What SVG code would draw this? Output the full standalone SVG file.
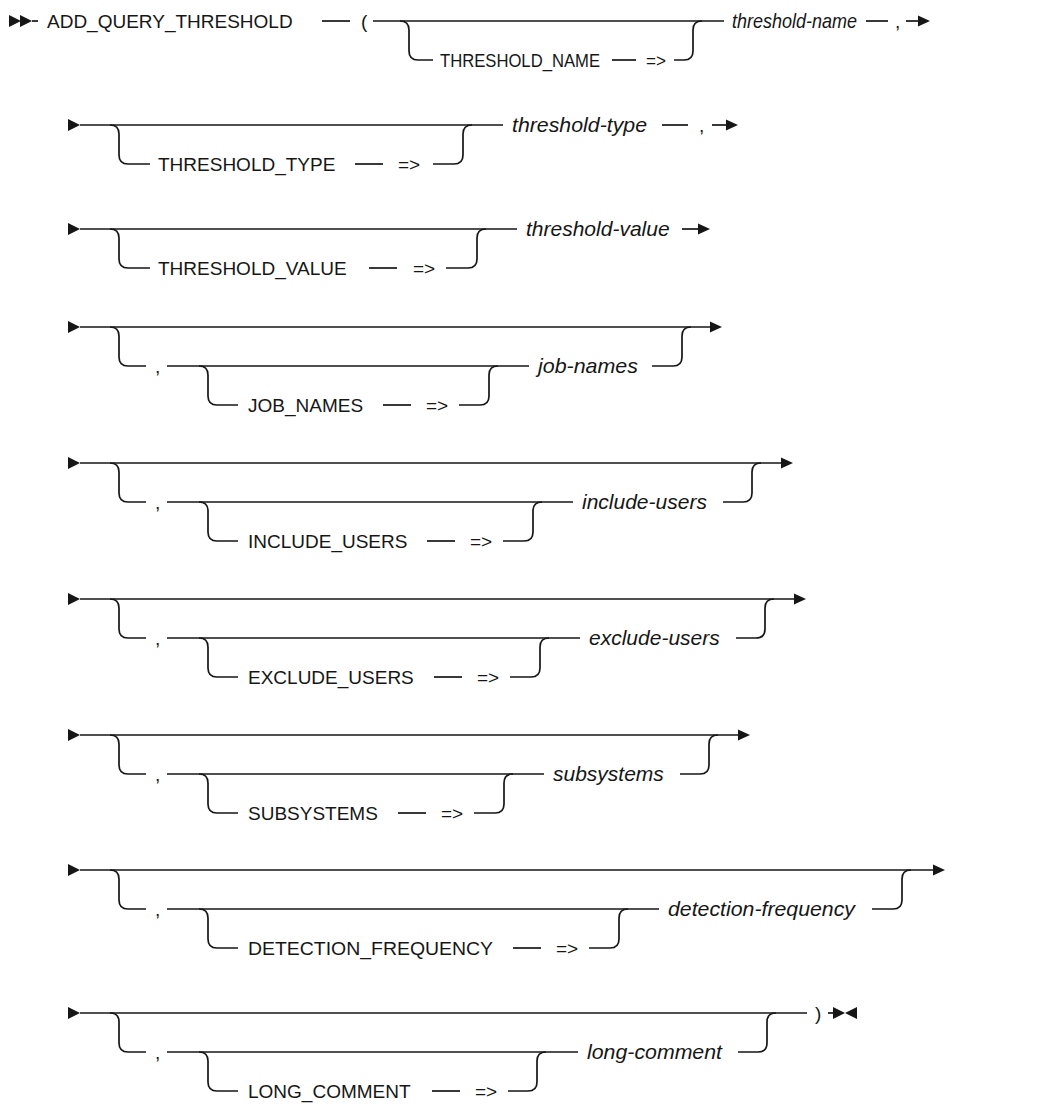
<svg xmlns="http://www.w3.org/2000/svg" xmlns:xlink="http://www.w3.org/1999/xlink" width="1063" height="1104" viewBox="0 0 1063 1104">
<style>
.kw{font-family:"Liberation Sans",Arial,sans-serif;font-size:19px;fill:#161616}
.var{font-family:"Liberation Sans",Arial,sans-serif;font-size:21px;font-style:italic;fill:#161616}
.rail{fill:none;stroke:#161616;stroke-width:1.7}
.tri{fill:#161616}
</style>
<defs>
<marker id="ah" markerUnits="userSpaceOnUse" markerWidth="12" markerHeight="12" viewBox="0 -6 12 12" refX="9" refY="0" orient="auto"><path d="M0,-5.5 L12,0 L0,5.5 Z" fill="#161616"/></marker>
<path id="st" class="tri" d="M0,-6 L12,0 L0,6 Z"/>
<path id="stl" class="tri" d="M12,-6 L0,0 L12,6 Z"/>
</defs>
<rect width="1063" height="1104" fill="#ffffff"/>

<g id="connectors" class="rail">
<!-- row 1 -->
<line x1="32" y1="21" x2="38" y2="21"/>
<line x1="322" y1="21" x2="350" y2="21"/>
<line x1="373" y1="21" x2="724" y2="21"/>
<path d="M400,21 Q409,21 409,30 V51 Q409,60 418,60 H433"/>
<line x1="612" y1="60" x2="636" y2="60"/>
<path d="M674,60 H684 Q693,60 693,51 V30 Q693,21 702,21"/>
<line x1="866" y1="21" x2="888" y2="21"/>
<line x1="906" y1="21" x2="927" y2="21" marker-end="url(#ah)"/>
<!-- row 2 -->
<line x1="80" y1="125" x2="503" y2="125"/>
<path d="M110,125 Q119,125 119,134 V155 Q119,164 128,164 H150"/>
<line x1="355" y1="164" x2="383" y2="164"/>
<path d="M433,164 H454 Q463,164 463,155 V134 Q463,125 472,125"/>
<line x1="662" y1="125" x2="688" y2="125"/>
<line x1="712" y1="125" x2="735" y2="125" marker-end="url(#ah)"/>
<!-- row 3 -->
<line x1="80" y1="229" x2="517" y2="229"/>
<path d="M110,229 Q119,229 119,238 V259 Q119,268 128,268 H150"/>
<line x1="369" y1="268" x2="397" y2="268"/>
<path d="M446,268 H468 Q477,268 477,259 V238 Q477,229 486,229"/>
<line x1="682" y1="229" x2="707" y2="229" marker-end="url(#ah)"/>
<!-- row 4 -->
<line x1="80" y1="327" x2="719" y2="327" marker-end="url(#ah)"/>
<path d="M110,327 Q119,327 119,336 V357 Q119,366 128,366 H146"/>
<line x1="167" y1="366" x2="529" y2="366"/>
<path d="M199,366 Q208,366 208,375 V396 Q208,405 217,405 H238"/>
<line x1="383" y1="405" x2="411" y2="405"/>
<path d="M459,405 H480 Q489,405 489,396 V375 Q489,366 498,366"/>
<path d="M652,366 H673 Q682,366 682,357 V336 Q682,327 691,327"/>
<!-- row 5 -->
<line x1="80" y1="463" x2="790" y2="463" marker-end="url(#ah)"/>
<path d="M110,463 Q119,463 119,472 V493 Q119,502 128,502 H146"/>
<line x1="167" y1="502" x2="573" y2="502"/>
<path d="M199,502 Q208,502 208,511 V532 Q208,541 217,541 H238"/>
<line x1="427" y1="541" x2="455" y2="541"/>
<path d="M503,541 H524 Q533,541 533,532 V511 Q533,502 542,502"/>
<path d="M723,502 H743 Q752,502 752,493 V472 Q752,463 761,463"/>
<!-- row 6 -->
<line x1="80" y1="599" x2="803" y2="599" marker-end="url(#ah)"/>
<path d="M110,599 Q119,599 119,608 V629 Q119,638 128,638 H146"/>
<line x1="167" y1="638" x2="580" y2="638"/>
<path d="M199,638 Q208,638 208,647 V668 Q208,677 217,677 H238"/>
<line x1="434" y1="677" x2="462" y2="677"/>
<path d="M510,677 H531 Q540,677 540,668 V647 Q540,638 549,638"/>
<path d="M736,638 H756 Q765,638 765,629 V608 Q765,599 774,599"/>
<!-- row 7 -->
<line x1="80" y1="735" x2="747" y2="735" marker-end="url(#ah)"/>
<path d="M110,735 Q119,735 119,744 V765 Q119,774 128,774 H146"/>
<line x1="167" y1="774" x2="544" y2="774"/>
<path d="M199,774 Q208,774 208,783 V804 Q208,813 217,813 H238"/>
<line x1="398" y1="813" x2="426" y2="813"/>
<path d="M474,813 H495 Q504,813 504,804 V783 Q504,774 513,774"/>
<path d="M680,774 H700 Q709,774 709,765 V744 Q709,735 718,735"/>
<!-- row 8 -->
<line x1="80" y1="870" x2="942" y2="870" marker-end="url(#ah)"/>
<path d="M110,870 Q119,870 119,879 V900 Q119,909 128,909 H146"/>
<line x1="167" y1="909" x2="659" y2="909"/>
<path d="M199,909 Q208,909 208,918 V939 Q208,948 217,948 H238"/>
<line x1="513" y1="948" x2="541" y2="948"/>
<path d="M589,948 H610 Q619,948 619,939 V918 Q619,909 628,909"/>
<path d="M872,909 H893 Q902,909 902,900 V879 Q902,870 911,870"/>
<!-- row 9 -->
<line x1="80" y1="1013" x2="807" y2="1013"/>
<path d="M110,1013 Q119,1013 119,1022 V1043 Q119,1052 128,1052 H146"/>
<line x1="167" y1="1052" x2="578" y2="1052"/>
<path d="M199,1052 Q208,1052 208,1061 V1082 Q208,1091 217,1091 H238"/>
<line x1="432" y1="1091" x2="460" y2="1091"/>
<path d="M508,1091 H528 Q537,1091 537,1082 V1061 Q537,1052 546,1052"/>
<path d="M738,1052 H758 Q767,1052 767,1043 V1022 Q767,1013 776,1013"/>
<line x1="828" y1="1013" x2="834" y2="1013"/>
</g>

<g id="markers">
<use xlink:href="#st" href="#st" x="9" y="21"/>
<use xlink:href="#st" href="#st" x="20" y="21"/>
<use xlink:href="#st" href="#st" x="68" y="125"/>
<use xlink:href="#st" href="#st" x="68" y="229"/>
<use xlink:href="#st" href="#st" x="68" y="327"/>
<use xlink:href="#st" href="#st" x="68" y="463"/>
<use xlink:href="#st" href="#st" x="68" y="599"/>
<use xlink:href="#st" href="#st" x="68" y="735"/>
<use xlink:href="#st" href="#st" x="68" y="870"/>
<use xlink:href="#st" href="#st" x="68" y="1013"/>
<use xlink:href="#st" href="#st" x="833" y="1013"/>
<use xlink:href="#stl" href="#stl" x="845" y="1013"/>
</g>

<g id="n-add-query-threshold"><text class="kw" x="47" y="28">ADD_QUERY_THRESHOLD</text></g>
<g id="n-open-paren"><text class="kw" x="361" y="28">(</text></g>
<g id="n-threshold-name-kw"><text class="kw" x="440" y="67" textLength="160" lengthAdjust="spacingAndGlyphs">THRESHOLD_NAME</text><text class="kw" x="646" y="67" textLength="20" lengthAdjust="spacingAndGlyphs">=&gt;</text></g>
<g id="n-threshold-name"><text class="var" x="732" y="28" textLength="125" lengthAdjust="spacingAndGlyphs">threshold-name</text><text class="kw" x="895" y="28">,</text></g>

<g id="n-threshold-type-kw"><text class="kw" x="158" y="171">THRESHOLD_TYPE</text><text class="kw" x="398" y="171">=&gt;</text></g>
<g id="n-threshold-type"><text class="var" x="512" y="132" textLength="135" lengthAdjust="spacingAndGlyphs">threshold-type</text><text class="kw" x="699" y="132">,</text></g>

<g id="n-threshold-value-kw"><text class="kw" x="158" y="275">THRESHOLD_VALUE</text><text class="kw" x="413" y="275">=&gt;</text></g>
<g id="n-threshold-value"><text class="var" x="526" y="236">threshold-value</text></g>

<g id="n-job-names-kw"><text class="kw" x="155" y="373">,</text><text class="kw" x="248" y="412">JOB_NAMES</text><text class="kw" x="426" y="412">=&gt;</text></g>
<g id="n-job-names"><text class="var" x="538" y="373" textLength="100" lengthAdjust="spacingAndGlyphs">job-names</text></g>

<g id="n-include-users-kw"><text class="kw" x="155" y="509">,</text><text class="kw" x="248" y="548">INCLUDE_USERS</text><text class="kw" x="470" y="548">=&gt;</text></g>
<g id="n-include-users"><text class="var" x="582" y="509">include-users</text></g>

<g id="n-exclude-users-kw"><text class="kw" x="155" y="645">,</text><text class="kw" x="248" y="684">EXCLUDE_USERS</text><text class="kw" x="477" y="684">=&gt;</text></g>
<g id="n-exclude-users"><text class="var" x="589" y="645">exclude-users</text></g>

<g id="n-subsystems-kw"><text class="kw" x="155" y="781">,</text><text class="kw" x="248" y="820">SUBSYSTEMS</text><text class="kw" x="441" y="820">=&gt;</text></g>
<g id="n-subsystems"><text class="var" x="553" y="781">subsystems</text></g>

<g id="n-detection-frequency-kw"><text class="kw" x="155" y="916">,</text><text class="kw" x="248" y="955" textLength="245" lengthAdjust="spacingAndGlyphs">DETECTION_FREQUENCY</text><text class="kw" x="556" y="955">=&gt;</text></g>
<g id="n-detection-frequency"><text class="var" x="668" y="916" textLength="187" lengthAdjust="spacingAndGlyphs">detection-frequency</text></g>

<g id="n-long-comment-kw"><text class="kw" x="155" y="1059">,</text><text class="kw" x="248" y="1098">LONG_COMMENT</text><text class="kw" x="475" y="1098">=&gt;</text></g>
<g id="n-long-comment"><text class="var" x="587" y="1059" textLength="135" lengthAdjust="spacingAndGlyphs">long-comment</text></g>
<g id="n-close-paren"><text class="kw" x="815" y="1020">)</text></g>
</svg>
